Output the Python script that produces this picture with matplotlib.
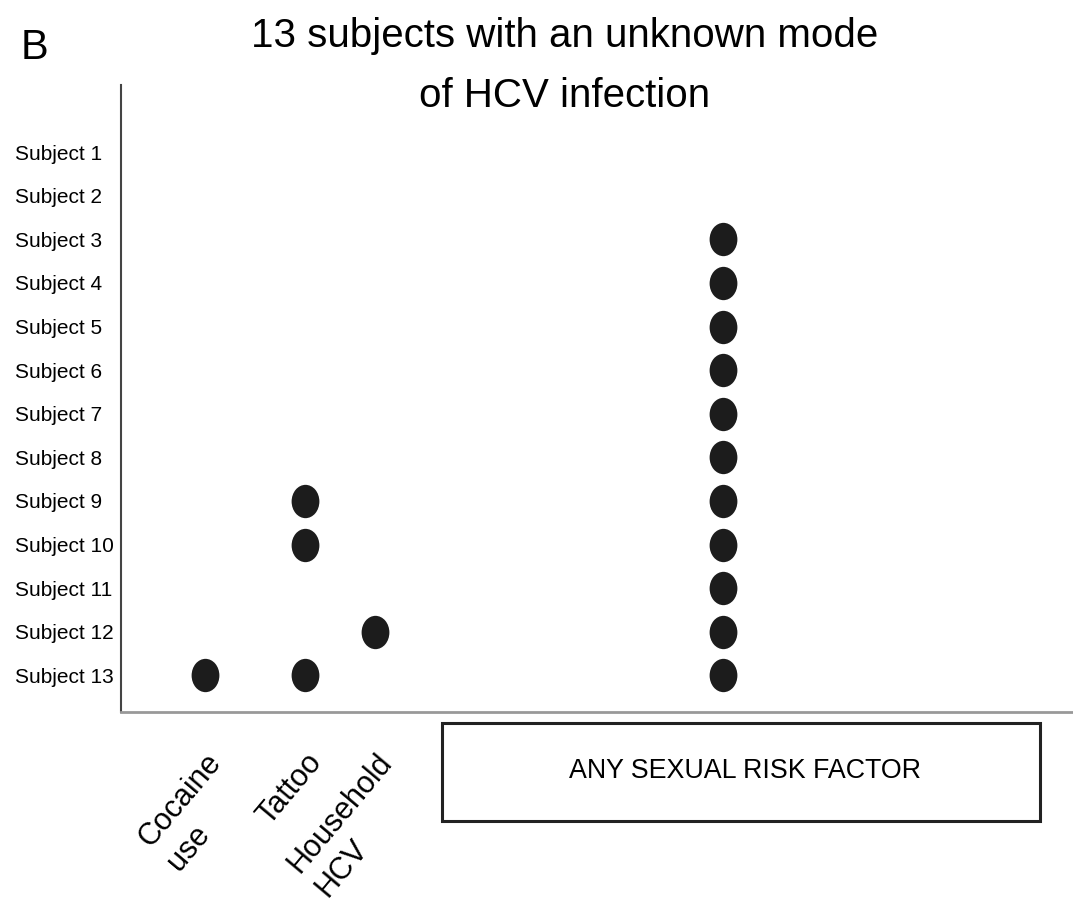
import numpy as np
import matplotlib.pyplot as plt
from matplotlib.path import Path
from matplotlib.patches import Rectangle

plt.rcParams['font.family'] = ['Liberation Sans', 'DejaVu Sans']

# data
subjects = ['Subject %d' % i for i in range(1, 14)]
factors = ['Cocaine\nuse', 'Tattoo', 'Household\nHCV', 'ANY SEXUAL RISK FACTOR']
cocaine = [13]
tattoo = [9, 10, 13]
household = [12]
sexual = [3, 4, 5, 6, 7, 8, 9, 10, 11, 12, 13]
groups = [cocaine, tattoo, household, sexual]

# column positions on the x axis
col_x = [1, 2, 2.7, 6.18]

# slightly tall ellipse marker
circ = Path.unit_circle()
ell = Path(circ.vertices * np.array([1.0, 1.2]), circ.codes)

fig = plt.figure(figsize=(10.73, 9.1), dpi=100)
ax = fig.add_axes([121/1073, 1 - 712/910, 1 - 121/1073, (712 - 85)/910])

for x, g in zip(col_x, groups):
    ax.plot([x]*len(g), g, ls='none', marker=ell, ms=24, color='#1c1c1c', mec='none')

ax.set_xlim(0.16, 9.68)
ax.set_ylim(13.84, -0.54)

ax.set_yticks(range(1, 14))
ax.set_yticklabels(subjects, fontsize=15, ha='left')
ax.tick_params(axis='y', length=0, pad=76)

ax.set_xticks(col_x[:3])
ax.set_xticklabels(factors[:3], fontsize=22, rotation=50, ha='right', va='top',
                   rotation_mode='anchor', multialignment='left', linespacing=1.3)
ax.tick_params(axis='x', length=0, pad=26)

for s in ['top', 'right']:
    ax.spines[s].set_visible(False)
ax.spines['left'].set_color('#444444')
ax.spines['left'].set_linewidth(1.5)
ax.spines['bottom'].set_color('#999999')
ax.spines['bottom'].set_linewidth(2)

# box for the sexual risk factor column
box = Rectangle((442/1073, 1 - 821/910), (1040 - 442)/1073, (821 - 723)/910,
                transform=fig.transFigure, fill=False, ec='#222222', lw=2.2)
fig.patches.append(box)
fig.text(745/1073, 1 - 771/910, factors[3], fontsize=19.3, ha='center', va='center')

fig.text(565/1073, 1 - 17/910, '13 subjects with an unknown mode\nof HCV infection',
         fontsize=29, ha='center', va='top', linespacing=1.72)
fig.text(21/1073, 1 - 28/910, 'B', fontsize=30, ha='left', va='top')

plt.savefig('out.png', dpi=100)
